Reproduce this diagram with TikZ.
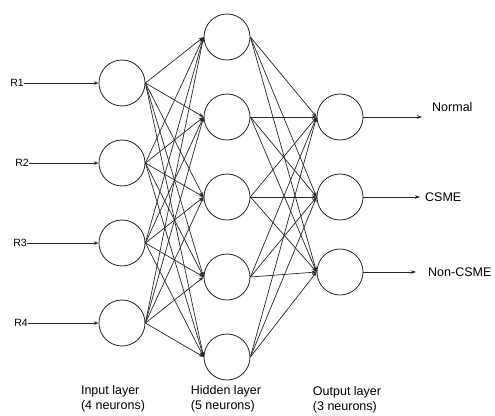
\documentclass[tikz,border=0pt]{standalone}
\usepackage{fontspec}
\setmainfont{Liberation Sans}
\usetikzlibrary{arrows.meta}
\begin{document}
\begin{tikzpicture}[x=1pt,y=-1pt,
  neuron/.style={circle,draw=black!85,line width=0.8pt,minimum size=46pt,inner sep=0pt},
  conn/.style={draw=black!85,line width=0.7pt,-{Stealth[length=5pt,width=3.5pt]}},
  inlabel/.style={font=\fontsize{10.5}{12}\selectfont,inner sep=0pt},
  outlabel/.style={font=\fontsize{12.5}{14}\selectfont,inner sep=0pt,anchor=west},
  laylabel/.style={font=\fontsize{12.5}{14.5}\selectfont,align=left,inner sep=0pt}]
\useasboundingbox (0,0) rectangle (495,415);
% input layer
\foreach \i/\y in {1/83,2/163,3/243,4/323}
  \node[neuron] (i\i) at (122,\y) {};
% hidden layer
\foreach \j/\y in {1/37,2/117,3/197,4/277,5/357}
  \node[neuron] (h\j) at (227,\y) {};
% output layer
\foreach \k/\y in {1/117,2/197,3/272}
  \node[neuron] (o\k) at (340,\y) {};
% input labels and arrows
\node[inlabel] (r1) at (17,83) {R1};
\node[inlabel] (r2) at (22,163) {R2};
\node[inlabel] (r3) at (20,243) {R3};
\node[inlabel] (r4) at (21,323) {R4};
\foreach \i in {1,...,4}
  \draw[conn] (r\i.east) -- (i\i.west);
% connections
\foreach \i in {1,...,4}
  \foreach \j in {1,...,5}
    \draw[conn] (i\i.east) -- (h\j.west);
\foreach \j in {1,...,5}
  \foreach \k in {1,...,3}
    \draw[conn] (h\j.east) -- (o\k.west);
% outputs
\coordinate (e1) at (422,117);
\coordinate (e2) at (420,197);
\coordinate (e3) at (416,272);
\foreach \k in {1,2,3}
  \draw[conn] (o\k.east) -- (e\k);
\node[outlabel] (l1) at (432,107) {Normal};
\node[outlabel] (l2) at (425,197) {CSME};
\node[outlabel] (l3) at (428,272) {Non-CSME};
% layer captions
\node[laylabel] (c1) at (113,399) {Input layer\\(4 neurons)};
\node[laylabel] (c2) at (226,399) {Hidden layer\\(5 neurons)};
\node[laylabel] (c3) at (347,400) {Output layer\\(3 neurons)};
\end{tikzpicture}
\end{document}
